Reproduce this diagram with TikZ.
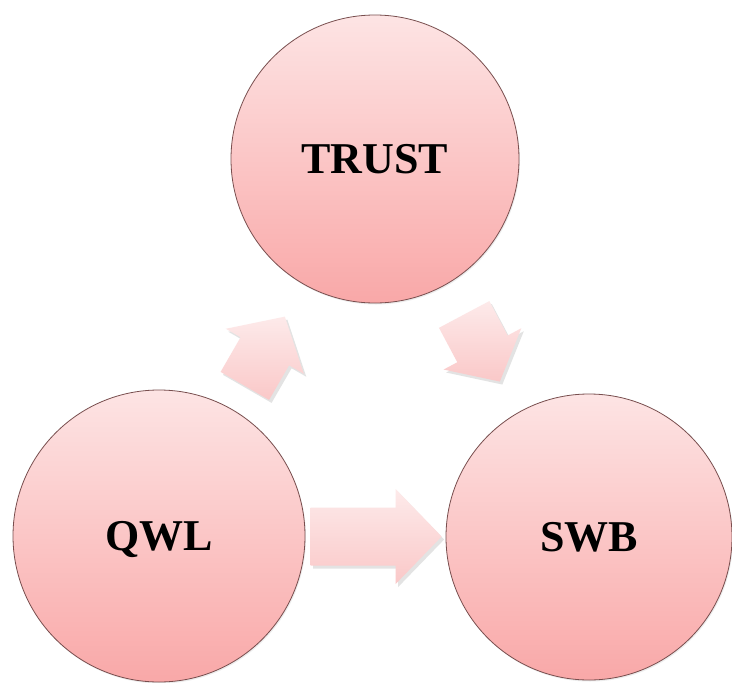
\documentclass[tikz,border=0pt]{standalone}
\usepackage{fontspec}
\setmainfont{Liberation Serif}
\usetikzlibrary{calc,shadows}
\definecolor{cirtop}{RGB}{253,228,228}
\definecolor{cirbot}{RGB}{249,168,168}
\definecolor{cirline}{RGB}{120,78,78}
\definecolor{arrtop}{RGB}{253,234,234}
\definecolor{arrbot}{RGB}{250,200,200}
\tikzset{
  circ/.style={circle, draw=cirline, line width=0.8pt, top color=cirtop, bottom color=cirbot,
    minimum size=#1, inner sep=0pt, font=\fontsize{44}{44}\selectfont\bfseries, text depth=0pt,
    drop shadow={shadow xshift=1pt, shadow yshift=-1.5pt, opacity=0.15}},
  blk/.style={draw=none, top color=arrtop, bottom color=arrbot,
    drop shadow={shadow xshift=2.5pt, shadow yshift=-3pt, opacity=0.22, fill=gray}},
}
\newcommand\blkarrow[6]{%
  \pgfmathsetmacro\blkA{#2}%
  \pgfmathsetmacro\blkN{#2+90}%
  \pgfmathsetmacro\blkT{-(#3)/2}%
  \pgfmathsetmacro\blkH{(#3)/2-(#6)}%
  \pgfmathsetmacro\blkP{(#3)/2}%
  \pgfmathsetmacro\blkS{(#4)/2}%
  \pgfmathsetmacro\blkW{(#5)/2}%
  \path[blk] ($(#1)+(\blkA:\blkT pt)+(\blkN:-\blkS pt)$)
    -- ($(#1)+(\blkA:\blkH pt)+(\blkN:-\blkS pt)$)
    -- ($(#1)+(\blkA:\blkH pt)+(\blkN:-\blkW pt)$)
    -- ($(#1)+(\blkA:\blkP pt)$)
    -- ($(#1)+(\blkA:\blkH pt)+(\blkN:\blkW pt)$)
    -- ($(#1)+(\blkA:\blkH pt)+(\blkN:\blkS pt)$)
    -- ($(#1)+(\blkA:\blkT pt)+(\blkN:\blkS pt)$) -- cycle;
}
\begin{document}
\begin{tikzpicture}[x=1pt,y=-1pt]
  \useasboundingbox (0,0) rectangle (732,683);
  \path[fill=white] (0,0) rectangle (732,683);
  % circles (positions only, drawn later on top)
  \path (375,159) coordinate (ctrust) (159,536) coordinate (cqwl) (589,537) coordinate (cswb);
  % arrows
  \coordinate (m1) at ($(cqwl)!0.49!(ctrust)$);
  \coordinate (m2) at ($(ctrust)!0.5!(cswb)$);
  \coordinate (m3) at ($(cqwl)!0.505!(cswb)$);
  \blkarrow{m1}{60}{80}{56}{90}{40}
  \blkarrow{m2}{-62}{76}{57}{88}{37}
  \blkarrow{m3}{0}{131}{58}{95}{46}
  % nodes
  \node[circ=288pt] (trust) at (ctrust) {TRUST};
  \node[circ=292pt] (qwl) at (cqwl) {QWL};
  \node[circ=286pt] (swb) at (cswb) {SWB};
\end{tikzpicture}
\end{document}
